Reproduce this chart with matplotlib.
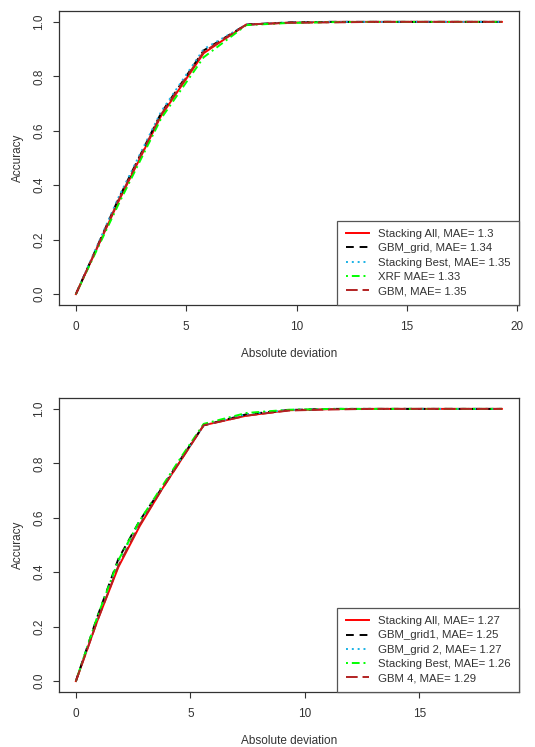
import numpy as np
import matplotlib.pyplot as plt

plt.rcParams["font.family"] = ["Liberation Sans", "DejaVu Sans"]

# Top panel data
x_top = [0, 1.93, 3.86, 5.79, 7.72, 9.65, 11.58, 13.51, 15.44, 17.37, 19.3]
top_labels = ["Stacking All, MAE= 1.3", "GBM_grid, MAE= 1.34",
              "Stacking Best, MAE= 1.35", "XRF MAE= 1.33", "GBM, MAE= 1.35"]
top_red = [0, 0.34, 0.655, 0.885, 0.99, 0.997, 1, 1, 1, 1, 1]
top_black = [0, 0.35, 0.665, 0.895, 0.99, 0.998, 1, 1, 1, 1, 1]
top_blue = [0, 0.355, 0.67, 0.90, 0.99, 0.998, 1, 1, 1, 1, 1]
top_green = [0, 0.33, 0.645, 0.87, 0.988, 0.996, 0.999, 1, 1, 1, 1]
top_brown = [0, 0.345, 0.66, 0.89, 0.99, 0.997, 0.998, 1, 1, 1, 1]

# Bottom panel data
x_bot = [0, 0.93, 1.86, 2.79, 3.72, 4.65, 5.58, 7.44, 9.3, 11.16, 13.02, 14.88, 16.74, 18.6]
bot_labels = ["Stacking All, MAE= 1.27", "GBM_grid1, MAE= 1.25",
              "GBM_grid 2, MAE= 1.27", "Stacking Best, MAE= 1.26", "GBM 4, MAE= 1.29"]
bot_red = [0, 0.22, 0.42, 0.57, 0.70, 0.82, 0.94, 0.975, 0.995, 0.999, 1, 1, 1, 1]
bot_black = [0, 0.235, 0.45, 0.59, 0.705, 0.825, 0.94, 0.98, 0.996, 1, 1, 1, 1, 1]
bot_blue = [0, 0.23, 0.44, 0.585, 0.705, 0.825, 0.94, 0.98, 0.996, 1, 1, 1, 1, 1]
bot_green = [0, 0.235, 0.445, 0.59, 0.71, 0.83, 0.945, 0.985, 0.997, 1, 1, 1, 1, 1]
bot_brown = [0, 0.22, 0.425, 0.575, 0.70, 0.82, 0.94, 0.975, 0.994, 0.998, 1, 1, 1, 1]

colors = ["#ff0000", "#000000", "#1ab2e6", "#00ff00", "#b22222"]
styles = ["-", (0, (4, 3)), (0, (1, 2)), (0, (1, 2, 4, 2)), (0, (6, 2.5))]

fig = plt.figure(figsize=(5.35, 7.47), dpi=100)
ax1 = fig.add_axes([0.110, 0.5917, 0.860, 0.3936])
ax2 = fig.add_axes([0.110, 0.0736, 0.860, 0.3936])


def draw(ax, x, series, labels, xticks):
    for y, c, ls, lab in zip(series, colors, styles, labels):
        ax.plot(x, y, color=c, linestyle=ls, linewidth=1.4, label=lab)
    xmax = max(x)
    ax.set_xlim(-0.04 * xmax, 1.04 * xmax)
    ax.set_ylim(-0.04, 1.04)
    ax.set_xticks(xticks)
    ax.set_yticks([0, 0.2, 0.4, 0.6, 0.8, 1.0])
    ax.set_yticklabels(["0.0", "0.2", "0.4", "0.6", "0.8", "1.0"], rotation=90, va="center")
    ax.tick_params(direction="out", length=4.3, width=0.8, labelsize=8.5, colors="#333333", pad=7)
    ax.tick_params(axis="y", pad=5.5)
    for s in ax.spines.values():
        s.set_color("#333333")
        s.set_linewidth(0.9)
    ax.set_xlabel("Absolute deviation", fontsize=8.5, color="#333333", labelpad=11)
    ax.set_ylabel("Accuracy", fontsize=8.5, color="#333333", labelpad=7)
    leg = ax.legend(loc="lower right", borderaxespad=0, fontsize=8.2, fancybox=False,
                    handlelength=2.0, labelspacing=0.38, borderpad=0.75, handletextpad=0.8,
                    framealpha=1)
    leg.get_frame().set_edgecolor("#555555")
    leg.get_frame().set_linewidth(0.9)
    for t in leg.get_texts():
        t.set_color("#333333")


draw(ax1, x_top, [top_red, top_black, top_blue, top_green, top_brown], top_labels, [0, 5, 10, 15, 20])
draw(ax2, x_bot, [bot_red, bot_black, bot_blue, bot_green, bot_brown], bot_labels, [0, 5, 10, 15])

fig.savefig("out.png", dpi=100)
